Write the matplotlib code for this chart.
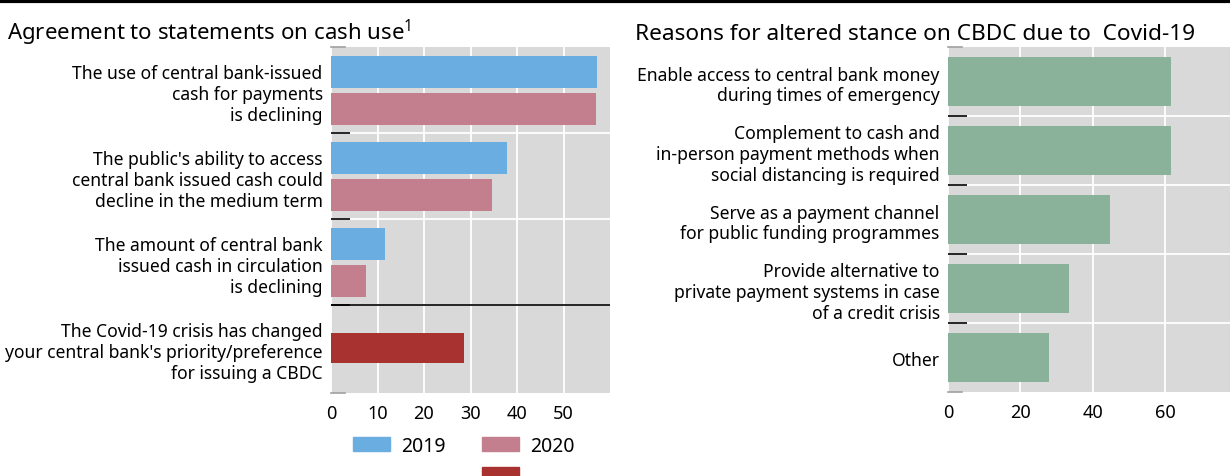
import numpy as np
import matplotlib
matplotlib.use("Agg")
import matplotlib.pyplot as plt
from matplotlib.patches import Patch
from matplotlib.lines import Line2D

plt.rcParams['font.family'] = ['Noto Sans', 'DejaVu Sans']
plt.rcParams['mathtext.fontset'] = 'custom'
plt.rcParams['mathtext.rm'] = 'Noto Sans'

# left panel data
cash_labels = ["The use of central bank-issued\ncash for payments\nis declining",
               "The public's ability to access\ncentral bank issued cash could\ndecline in the medium term",
               "The amount of central bank\nissued cash in circulation\nis declining"]
cash_2019 = [57.1, 37.9, 11.6]
cash_2020 = [56.9, 34.7, 7.5]
covid_label = "The Covid-19 crisis has changed\nyour central bank's priority/preference\nfor issuing a CBDC"
covid_value = 28.7

# right panel data
reason_labels = ["Enable access to central bank money\nduring times of emergency",
                 "Complement to cash and\nin-person payment methods when\nsocial distancing is required",
                 "Serve as a payment channel\nfor public funding programmes",
                 "Provide alternative to\nprivate payment systems in case\nof a credit crisis",
                 "Other"]
reason_values = [61.5, 61.5, 44.7, 33.4, 27.9]

c_blue = '#6AADE0'
c_pink = '#C47F8E'
c_red = '#A83230'
c_green = '#8AB29B'
c_bg = '#D9D9D9'
fs = 12.6

fig = plt.figure(figsize=(12.3, 4.77), dpi=100)

def style(ax, minor, width_px):
    ax.set_facecolor(c_bg)
    for s in ax.spines.values():
        s.set_visible(False)
    ax.set_yticks(minor, minor=True)
    ax.grid(axis='x', which='major', color='white', lw=1.3)
    ax.grid(axis='y', which='minor', color='white', lw=1.3)
    ax.set_axisbelow(True)
    ax.tick_params(axis='y', which='major', length=0, labelsize=fs, pad=6)
    ax.tick_params(axis='y', which='minor', length=14, width=1.2, direction='in', color='black')
    ax.tick_params(axis='x', length=0, labelsize=13, pad=8)
    # small grey marks at the top and bottom edge
    for yy in (0, 1):
        ax.add_line(Line2D([0, 14 / width_px], [yy, yy], transform=ax.transAxes,
                           color='#A0A0A0', lw=1.2, clip_on=False))

# left panel
ax1 = fig.add_axes([331 / 1230, 83 / 477, 279 / 1230, 346 / 477])
y = np.arange(len(cash_labels))
ax1.barh(y - 0.215, cash_2019, height=0.37, color=c_blue)
ax1.barh(y + 0.215, cash_2020, height=0.37, color=c_pink)
ax1.barh([3], [covid_value], height=0.35, color=c_red)
ax1.set_xlim(0, 60)
ax1.set_ylim(3.52, -0.506)
ax1.set_xticks([0, 10, 20, 30, 40, 50])
ax1.set_yticks(list(y) + [3])
ax1.set_yticklabels(cash_labels + [covid_label], ha='right', linespacing=1.2)
style(ax1, [0.5, 1.5, 2.5], 279)
ax1.axhline(2.5, color='black', lw=1.2)

# right panel
ax2 = fig.add_axes([948 / 1230, 84 / 477, 282 / 1230, 345 / 477])
y2 = np.arange(len(reason_labels))
ax2.barh(y2, reason_values, height=0.71, color=c_green)
ax2.set_xlim(0, 77.8)
ax2.set_ylim(4.5, -0.5)
ax2.set_xticks([0, 20, 40, 60])
ax2.set_yticks(y2)
ax2.set_yticklabels(reason_labels, ha='right', linespacing=1.2)
style(ax2, [0.5, 1.5, 2.5, 3.5], 282)

# titles and top rule
fig.add_artist(Line2D([0, 1], [0.996, 0.996], transform=fig.transFigure, color='black', lw=3))
fig.text(7 / 1230, 1 - 40 / 477, "Agreement to statements on cash use$^{1}$", fontsize=16)
fig.text(635 / 1230, 1 - 40 / 477, "Reasons for altered stance on CBDC due to  Covid-19",
         fontsize=16.3)

# legend
handles = [Patch(color=c_blue, label='2019'), Patch(color='none', label=' '),
           Patch(color=c_pink, label='2020'), Patch(color=c_red, label='')]
fig.legend(handles=handles, ncol=2, loc='upper left', bbox_to_anchor=(353 / 1230, 1 - 437 / 477),
           frameon=False, fontsize=14, handlelength=1.9, handleheight=0.77,
           handletextpad=0.57, columnspacing=1.9, labelspacing=0.5, borderpad=0, borderaxespad=0)

fig.savefig('out.png', dpi=100)
